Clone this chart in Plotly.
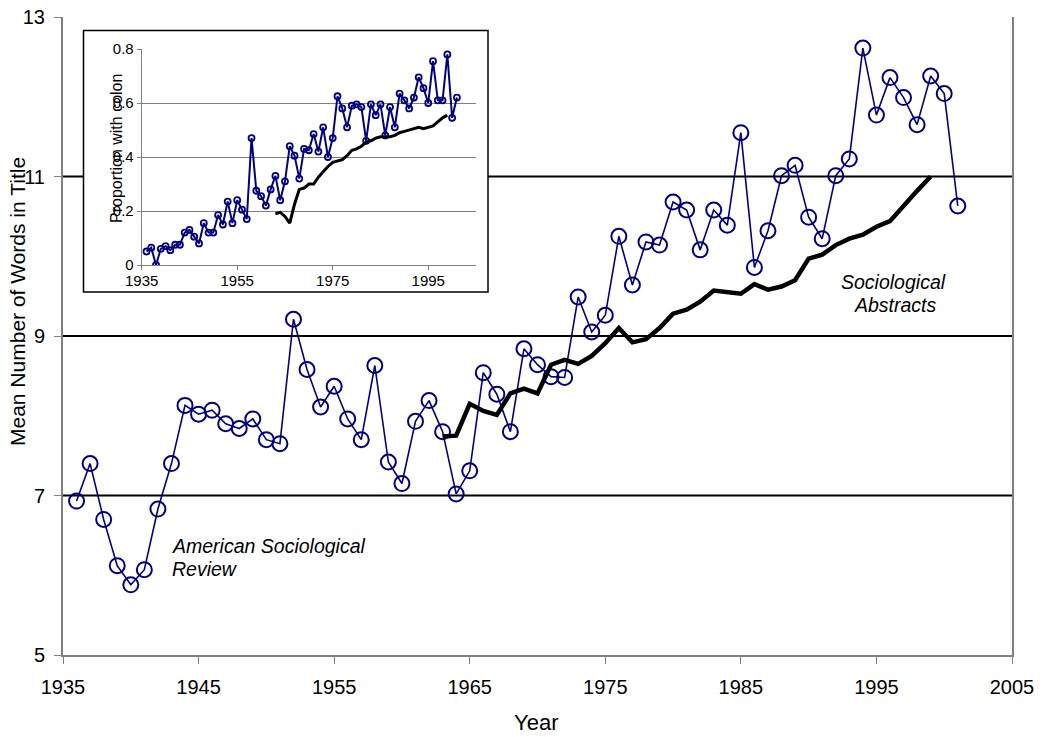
import plotly.graph_objects as go

# ---------------- data ----------------
asr_years = list(range(1936, 2002))
asr_words = [6.93, 7.40, 6.70, 6.12, 5.88, 6.07, 6.83, 7.40, 8.13, 8.02,
             8.07, 7.90, 7.84, 7.96, 7.70, 7.65, 9.21, 8.58, 8.11, 8.37,
             7.96, 7.70, 8.63, 7.42, 7.15, 7.93, 8.19, 7.80, 7.02, 7.31,
             8.54, 8.27, 7.80, 8.84, 8.64, 8.49, 8.48, 9.49, 9.05, 9.26,
             10.25, 9.64, 10.18, 10.14, 10.68, 10.58, 10.08, 10.58, 10.39, 11.55,
             9.86, 10.32, 11.01, 11.14, 10.49, 10.22, 11.01, 11.22, 12.61, 11.77,
             12.24, 11.99, 11.65, 12.26, 12.04, 10.63]

sa_years = list(range(1963, 2000))
sa_words = [7.74, 7.75, 8.15, 8.06, 8.01, 8.28, 8.34, 8.28, 8.64, 8.70,
            8.65, 8.75, 8.91, 9.10, 8.92, 8.96, 9.10, 9.28, 9.33, 9.43,
            9.57, 9.55, 9.53, 9.65, 9.58, 9.62, 9.70, 9.97, 10.02, 10.14,
            10.22, 10.27, 10.37, 10.44, 10.64, 10.82, 11.00]

asr_colon = [0.05, 0.064, 0.0, 0.06, 0.07, 0.055, 0.075, 0.075, 0.12, 0.13,
             0.105, 0.08, 0.155, 0.12, 0.12, 0.185, 0.15, 0.235, 0.155, 0.24,
             0.205, 0.17, 0.47, 0.275, 0.255, 0.22, 0.28, 0.33, 0.24, 0.31,
             0.44, 0.405, 0.32, 0.43, 0.425, 0.485, 0.42, 0.51, 0.40, 0.47,
             0.625, 0.58, 0.51, 0.59, 0.595, 0.585, 0.46, 0.595, 0.555, 0.595,
             0.48, 0.585, 0.51, 0.635, 0.61, 0.58, 0.62, 0.695, 0.655, 0.60,
             0.755, 0.61, 0.61, 0.78, 0.545, 0.62]

sa_colon = [0.19, 0.195, 0.18, 0.155, 0.225, 0.28, 0.285, 0.30, 0.30, 0.325,
            0.345, 0.365, 0.38, 0.385, 0.39, 0.405, 0.425, 0.43, 0.44, 0.455,
            0.46, 0.47, 0.475, 0.475, 0.475, 0.48, 0.49, 0.495, 0.50, 0.505,
            0.51, 0.505, 0.51, 0.515, 0.53, 0.545, 0.555]

main_y_ticks = [5, 7, 9, 11, 13]
main_x_ticks = [1935, 1945, 1955, 1965, 1975, 1985, 1995, 2005]
grid_levels = [7, 9, 11]
inset_x_ticks = [1935, 1955, 1975, 1995]
inset_y_ticks = [0, 0.2, 0.4, 0.6, 0.8]
inset_y_labels = ["0", "0.2", "0.4", "0.6", "0.8"]

NAVY = "#000080"
GRAY = "#808080"
FONT = "Arial, 'Liberation Sans', sans-serif"

W, H = 1045, 737
# plot area in page pixels: x 63..1012, y 17..655
L, R, T, B = 63, 1045 - 1012, 17, 737 - 655
pw, ph = W - L - R, H - T - B


def px(x):  # page pixel -> paper x
    return (x - L) / pw


def py(y):  # page pixel -> paper y
    return (H - B - y) / ph


fig = go.Figure()

# main traces
fig.add_trace(go.Scatter(x=asr_years, y=asr_words, mode="lines+markers",
                         line=dict(color=NAVY, width=1.6),
                         marker=dict(symbol="circle-open", size=15,
                                     color=NAVY, line=dict(width=2, color=NAVY)),
                         xaxis="x", yaxis="y", showlegend=False))
fig.add_trace(go.Scatter(x=sa_years, y=sa_words, mode="lines",
                         line=dict(color="black", width=4.5),
                         xaxis="x", yaxis="y", showlegend=False))

# inset traces
fig.add_trace(go.Scatter(x=asr_years, y=asr_colon, mode="lines+markers",
                         line=dict(color=NAVY, width=2),
                         marker=dict(symbol="circle-open", size=6,
                                     color=NAVY, line=dict(width=1.8, color=NAVY)),
                         xaxis="x2", yaxis="y2", showlegend=False))
fig.add_trace(go.Scatter(x=sa_years, y=sa_colon, mode="lines",
                         line=dict(color="black", width=3),
                         xaxis="x2", yaxis="y2", showlegend=False))

shapes = []
for g in grid_levels:
    shapes.append(dict(type="line", xref="paper", yref="y", x0=0, x1=1, y0=g, y1=g,
                       line=dict(color="black", width=1.8), layer="below"))
# inset box (white, covers main gridlines)
shapes.append(dict(type="rect", xref="paper", yref="paper",
                   x0=px(83.5), x1=px(488), y0=py(292), y1=py(30.5),
                   fillcolor="white", line=dict(color="black", width=1.5), layer="below"))

annotations = [
    dict(text="Mean Number of Words in Title", xref="paper", yref="paper",
         x=px(17), y=py(302), textangle=-90, showarrow=False,
         xanchor="center", yanchor="middle", font=dict(size=21, color="black", family=FONT)),
    dict(text="Year", xref="paper", yref="paper", x=px(536), y=py(723),
         showarrow=False, xanchor="center", yanchor="middle",
         font=dict(size=22, color="black", family=FONT)),
    dict(text="<i>American Sociological</i>", xref="paper", yref="paper",
         x=px(170), y=py(546), showarrow=False, xanchor="left", yanchor="middle",
         font=dict(size=19.5, color="black", family=FONT)),
    dict(text="<i>Review</i>", xref="paper", yref="paper",
         x=px(170), y=py(569), showarrow=False, xanchor="left", yanchor="middle",
         font=dict(size=19.5, color="black", family=FONT)),
    dict(text="<i>Sociological</i>", xref="paper", yref="paper",
         x=px(893), y=py(282), showarrow=False, xanchor="center", yanchor="middle",
         font=dict(size=19.5, color="black", family=FONT)),
    dict(text="<i>Abstracts</i>", xref="paper", yref="paper",
         x=px(895), y=py(305), showarrow=False, xanchor="center", yanchor="middle",
         font=dict(size=19.5, color="black", family=FONT)),
    dict(text="Proportion with colon", xref="paper", yref="paper",
         x=px(117), y=py(149), textangle=-90, showarrow=False,
         xanchor="center", yanchor="middle", font=dict(size=16, color="black", family=FONT)),
]

fig.update_layout(
    width=W, height=H, autosize=False,
    margin=dict(l=L, r=R, t=T, b=B, pad=0),
    paper_bgcolor="white", plot_bgcolor="rgba(0,0,0,0)",
    font=dict(family=FONT, color="black"),
    shapes=shapes, annotations=annotations,
    xaxis=dict(range=[1935, 2005], tickvals=main_x_ticks, ticks="outside",
               ticklen=7, tickwidth=1, tickcolor=GRAY, showline=True,
               linecolor=GRAY, linewidth=2, showgrid=False, zeroline=False,
               tickfont=dict(size=20, color="black"), ticklabelstandoff=6,
               ticklabeloverflow="allow", automargin=False, domain=[0, 1]),
    yaxis=dict(range=[5, 13], tickvals=main_y_ticks, ticks="outside",
               ticklen=7, tickwidth=1, tickcolor=GRAY, showline=True, mirror=True,
               linecolor=GRAY, linewidth=2, showgrid=False, zeroline=False,
               tickfont=dict(size=20, color="black"), ticklabelstandoff=5,
               ticklabeloverflow="allow", automargin=False, domain=[0, 1]),
    xaxis2=dict(range=[1935, 2005], tickvals=inset_x_ticks, ticks="outside",
                ticklen=4, tickcolor=GRAY, showline=True, linecolor=GRAY, linewidth=1,
                showgrid=False, zeroline=False, tickfont=dict(size=15, color="black"),
                ticklabelstandoff=-2, automargin=False,
                domain=[px(141.7), px(476)], anchor="y2"),
    yaxis2=dict(range=[0, 0.8], tickvals=inset_y_ticks, ticktext=inset_y_labels,
                ticks="outside", ticklen=4, tickcolor=GRAY, showline=True,
                linecolor=GRAY, linewidth=1, showgrid=True, gridcolor=GRAY,
                gridwidth=1, zeroline=False, tickfont=dict(size=15, color="black"),
                automargin=False, domain=[py(265), py(49)], anchor="x2"),
)

# remove the browser's default 8px body margin so the figure fills the window
fig.write_html("out.html",
               config={"displayModeBar": False, "staticPlot": True},
               post_script="document.body.style.margin='0';"
                           "document.body.style.overflow='hidden';")
